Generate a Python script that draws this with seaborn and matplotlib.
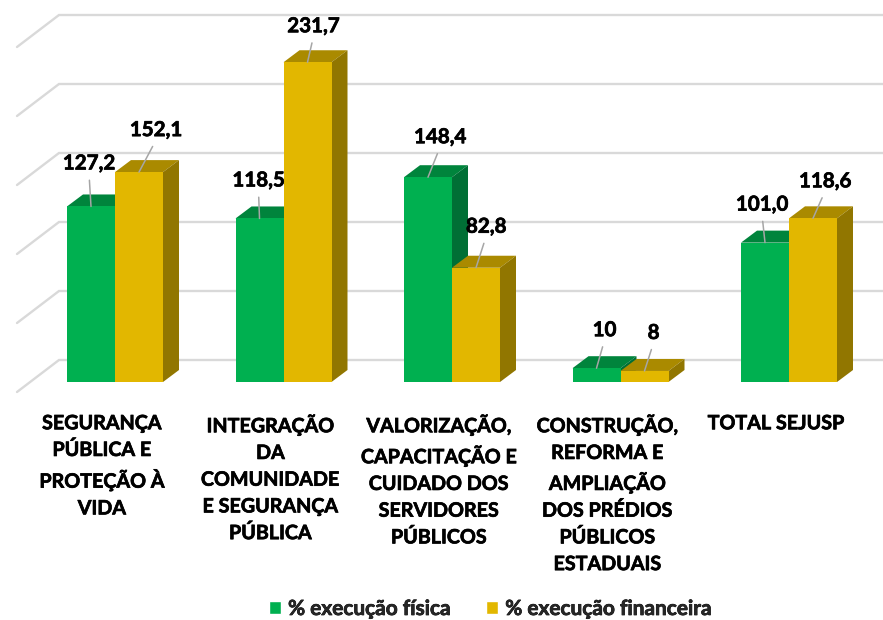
import matplotlib
matplotlib.use("Agg")
import matplotlib.pyplot as plt
import matplotlib.transforms as mtrans
import matplotlib.patheffects as pe
from matplotlib.patches import Polygon, Patch
import pandas as pd
import seaborn as sns

categories = [
    "SEGURANÇA\nPÚBLICA E\nPROTEÇÃO À\nVIDA",
    "INTEGRAÇÃO\nDA\nCOMUNIDADE\nE SEGURANÇA\nPÚBLICA",
    "VALORIZAÇÃO,\nCAPACITAÇÃO E\nCUIDADO DOS\nSERVIDORES\nPÚBLICOS",
    "CONSTRUÇÃO,\nREFORMA E\nAMPLIAÇÃO\nDOS PRÉDIOS\nPÚBLICOS\nESTADUAIS",
    "TOTAL SEJUSP",
]
serie_fisica = [127.2, 118.5, 148.4, 10, 101.0]
serie_financeira = [152.1, 231.7, 82.8, 8, 118.6]
rotulos_fisica = ["127,2", "118,5", "148,4", "10", "101,0"]
rotulos_financeira = ["152,1", "231,7", "82,8", "8", "118,6"]
nome_fisica = "% execução física"
nome_financeira = "% execução financeira"
grid_values = [0, 50, 100, 150, 200, 250]

# label offsets (pixels, relative to the bar's top centre)
off_fisica = [(-2, 43), (-1, 38), (12, 40), (8, 38), (-3, 38)]
off_financeira = [(17, 42), (6, 36), (10, 41), (9, 38), (12, 37)]

W, H = 883, 620
FONT = "Lato"
sns.set_style("white")
plt.rcParams["font.family"] = [FONT, "DejaVu Sans"]
BOLDER = [pe.withStroke(linewidth=0.5, foreground="black")]

fig = plt.figure(figsize=(W / 100, H / 100), dpi=100)
ax = fig.add_axes([59 / W, 1 - 382 / H, (883 - 59) / W, 345 / H])

df = pd.DataFrame({
    "cat": categories * 2,
    "serie": [nome_fisica] * 5 + [nome_financeira] * 5,
    "valor": serie_fisica + serie_financeira,
})
GREEN, YELLOW = "#00B050", "#E2B700"
sns.barplot(data=df, x="cat", y="valor", hue="serie", order=categories,
            hue_order=[nome_fisica, nome_financeira],
            palette=[GREEN, YELLOW], saturation=1, width=96 / 168.5, gap=0,
            legend=False, ax=ax)
ax.set_xlim((59 - 115) / 168.5, (883 - 115) / 168.5)
ax.set_ylim(0, 250)
ax.set_xlabel("")
ax.set_ylabel("")
sns.despine(ax=ax, left=True, bottom=True, top=True, right=True)
ax.patch.set_visible(False)
ax.set_yticks([])
ax.tick_params(axis="x", length=0, pad=22.5)
ax.set_xticks(range(len(categories)))
ax.set_xticklabels(categories, fontsize=14.2, fontweight="bold", color="black",
                   linespacing=1.42, va="top")
shift = mtrans.ScaledTranslation(-13 / 100, 0, fig.dpi_scale_trans)
for lab in ax.get_xticklabels():
    lab.set_transform(lab.get_transform() + shift)
    lab.set_path_effects(BOLDER)

# depth faces, derived from each bar's own geometry
DX, DY = 16, 12
WALL_DX, WALL_DY = 42, 22
ident = mtrans.IdentityTransform()
for z, cont, top_c, side_c in [(2, ax.containers[0], "#00843C", "#006F35"),
                               (4, ax.containers[1], "#AA8A00", "#917600")]:
    for bar in cont:
        bar.set_zorder(z + 1)
        bar.set_clip_on(False)
        bar.set_edgecolor("none")
        (x0, y0) = ax.transData.transform((bar.get_x(), 0))
        (x1, y1) = ax.transData.transform((bar.get_x() + bar.get_width(), bar.get_height()))
        ax.add_patch(Polygon([(x0, y1), (x1, y1), (x1 + DX, y1 + DY), (x0 + DX, y1 + DY)],
                             closed=True, fc=top_c, ec="none", transform=ident,
                             zorder=z, clip_on=False))
        ax.add_patch(Polygon([(x1, y0), (x1, y1), (x1 + DX, y1 + DY), (x1 + DX, y0 + DY)],
                             closed=True, fc=side_c, ec="none", transform=ident,
                             zorder=z, clip_on=False))

# back wall grid
for v in grid_values:
    xl, yv = ax.transData.transform((ax.get_xlim()[0], v))
    xr, _ = ax.transData.transform((ax.get_xlim()[1], v))
    yb = yv + WALL_DY
    ax.plot([xl - WALL_DX, xl, xr], [yb - 32, yb, yb], transform=ident,
            color="#D9D9D9", lw=1.7, zorder=1, clip_on=False,
            solid_joinstyle="miter")

# data labels with leader lines
for cont, rots, offs in [(ax.containers[0], rotulos_fisica, off_fisica),
                         (ax.containers[1], rotulos_financeira, off_financeira)]:
    for bar, txt, off in zip(cont, rots, offs):
        ann = ax.annotate(txt, xy=(bar.get_x() + bar.get_width() / 2, bar.get_height()),
                          xytext=off, textcoords="offset pixels", ha="center", va="center",
                          fontsize=14.8, fontweight="bold", color="black", zorder=8,
                          annotation_clip=False,
                          arrowprops=dict(arrowstyle="-", color="#A6A6A6", lw=1.1,
                                          shrinkA=2.5, shrinkB=0, relpos=(0.5, 0)))
        ann.set_path_effects(BOLDER)

# legend
handles = [Patch(fc=GREEN, label=nome_fisica), Patch(fc=YELLOW, label=nome_financeira)]
leg = fig.legend(handles=handles, loc="center", bbox_to_anchor=(490.5 / W, 1 - 609 / H), ncol=2,
                 frameon=False, handlelength=0.58, handleheight=0.58, handletextpad=0.34,
                 columnspacing=1.68, borderpad=0,
                 prop={"family": FONT, "weight": "bold", "size": 15})
for t in leg.get_texts():
    t.set_path_effects(BOLDER)

fig.savefig("out.png", dpi=100)
